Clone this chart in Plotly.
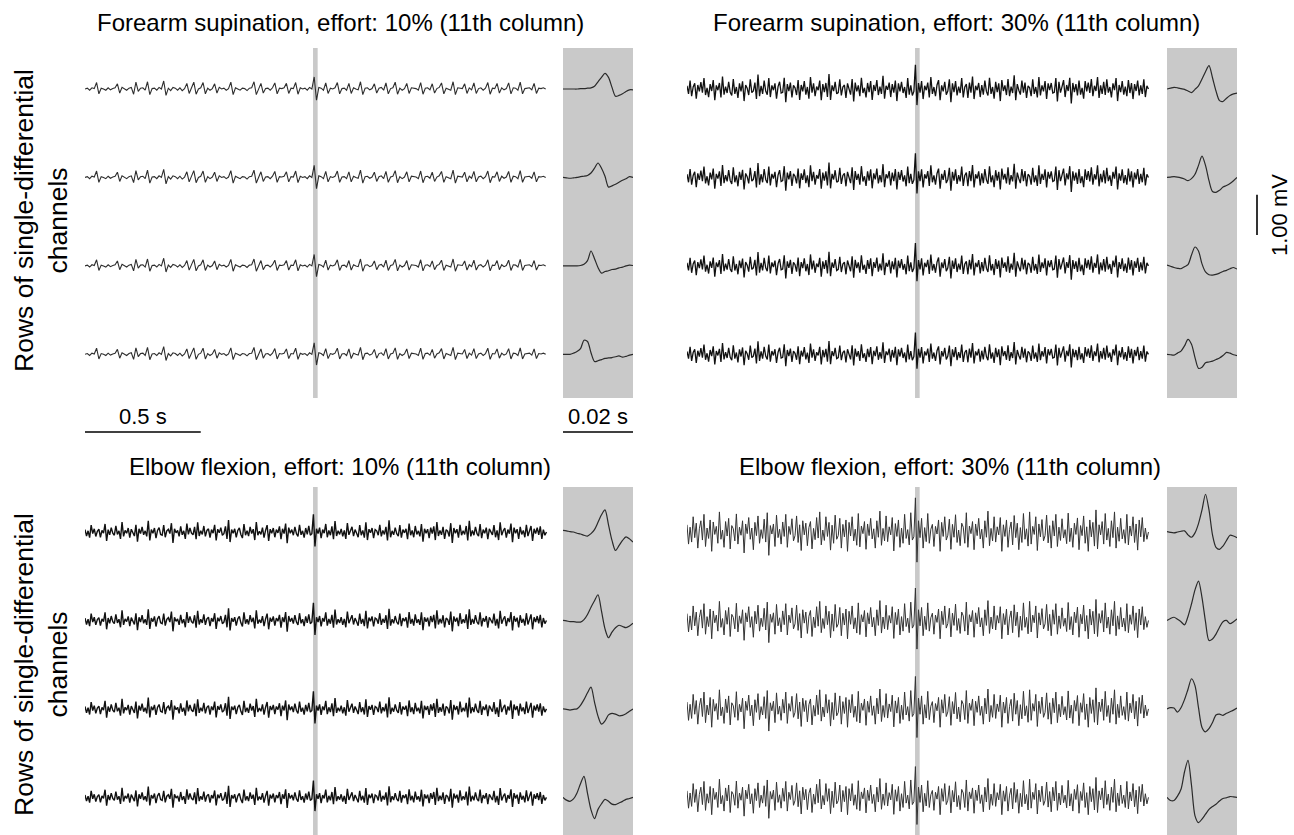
import numpy as np
import plotly.graph_objects as go

W, H = 1294, 835

titles = [
    "Forearm supination, effort: 10% (11th column)",
    "Forearm supination, effort: 30% (11th column)",
    "Elbow flexion, effort: 10% (11th column)",
    "Elbow flexion, effort: 30% (11th column)",
]
ylabel = "Rows of single-differential<br>channels"

# raw signal samples (units of 0.01 mV), 2 s each
fs_tl = 100.0
sig_tl = [
    0, 2, -3, 3, 1, 16, -12, 2, 0, -3,
    3, -2, 1, 3, 13, -10, 4, 0, -3, 2,
    4, -13, 17, -6, 2, 3, -3, 18, -14, 1,
    2, -3, 4, 0, 20, -16, 2, -4, 4, 2,
    -3, 3, -4, 1, 14, -11, 2, 17, -13, 0,
    3, 16, -12, 2, -3, 1, 13, -10, 4, 0,
    2, -3, 1, 17, -14, 3, 0, -3, 2, 1,
    -4, 2, 3, 18, -14, 2, 14, -10, 1, 2,
    -3, 3, 15, -12, 2, 1, 3, 14, -11, 2,
    1, 16, -13, 3, 0, 2, -3, 4, 0, 30,
    -28, 4, 2, -3, 15, -11, 2, 0, 3, 16,
    -12, 1, 2, -3, 14, -11, 3, 0, -2, 18,
    -14, 2, 3, -2, 1, 13, -10, 2, 4, -3,
    15, -12, 1, 3, 17, -13, 2, -3, 1, 14,
    -11, 3, 2, 1, -3, 16, -13, 2, 3, -2,
    13, -10, 1, 4, 15, -12, 2, 0, -3, 18,
    -14, 3, 2, 1, 13, -11, 3, -2, 15, -11,
    1, 3, -3, 2, 16, -13, 2, 1, 14, -10,
    3, -2, 1, 15, -12, 3, 2, -3, 17, -12,
    1, 2, 3, -2, 14, -11, 2, 1, 3, 0,
]
fs_tr = 150.0
sig_tr = [
    8, -12, 21, -18, 5, 14, -24, 10, -6, 17, -9, 27, -15, 3, -20,
    12, -5, 22, -28, 9, -3, 15, -21, 31, -14, 6, -10, 18, -8, -16,
    25, -12, 5, -22, 14, -6, 19, -30, 10, 2, -15, 24, -9, -5, 16,
    -25, 36, -18, 8, -12, 21, -5, -14, 27, -20, 9, -3, 14, -24, 6,
    18, -10, -8, 28, -33, 12, -5, 16, -21, 9, 3, -15, 22, -27, 10,
    -6, 20, -14, 5, -24, 30, -9, 14, -18, 6, -3, 21, -28, 12, -8,
    15, -20, 37, -27, 9, -5, 18, -12, -9, 24, -16, 5, 10, -22, 14,
    -3, -14, 25, -31, 16, -6, 9, -18, 28, -10, 3, -21, 15, -8, 20,
    -27, 10, -5, 22, -15, 6, -12, 33, -24, 8, -2, 16, -20, 12, -9,
    21, -30, 14, -6, 18, -10, 5, -22, 27, -14, 9, -16, -6, 60, -40,
    15, -9, 20, -25, 8, -3, 16, -21, 30, -12, 5, -18, 10, 22, -28,
    9, -6, 18, -14, -5, 24, -33, 14, -8, 20, -16, 6, -10, 27, -21,
    5, 12, -22, 16, -9, 31, -25, 8, -3, 15, -20, 10, -14, 21, -6,
    -16, 28, -12, 5, -24, 18, -8, 14, -30, 22, -5, 9, -15, 25, -18,
    6, -10, 34, -28, 12, -3, -14, 21, -9, 16, -22, 8, 3, -18, 24,
    -12, 5, -21, 30, -16, 9, -6, 20, -25, 14, -3, 15, -10, -8, 27,
    -31, 18, -9, 6, 22, -20, 10, -5, 28, -36, 15, -8, 12, -16, 21,
    -14, 3, -24, 20, -6, 16, -10, 25, -18, 8, -5, 30, -22, 9, -12,
    18, -15, 24, -9, 5, -21, 14, -3, 27, -30, 10, -8, 20, -14, 6,
    -18, 22, -10, 15, -25, 12, -5, 21, -16, 9, -12, 24, -20, 8, 0,
]
fs_bl = 150.0
sig_bl = [
    6, -10, 3, -14, 17, -4, 8, -11, 2, 7, -13, 4, -3, 20, -22,
    6, -7, 11, -3, -8, 15, -6, 3, -17, 25, -11, 4, -3, 10, -14,
    7, -2, -10, 18, -24, 8, -4, 13, -7, 3, -11, 28, -21, 6, -3,
    10, -15, 4, 11, -6, -8, 17, -13, 3, 7, -4, 22, -27, 8, -2,
    4, -11, 14, -7, 3, -17, 21, -6, 10, -3, -7, 13, -18, 24, -10,
    3, -6, 15, -11, 4, 8, -14, 6, -3, 18, -21, 7, -2, 11, -8,
    -4, 14, -17, 30, -25, 6, -3, 8, -13, 4, 10, -6, -15, 20, -8,
    3, -10, 13, -4, 7, -20, 25, -8, 2, -6, 11, -14, 4, 17, -22,
    7, -3, 10, -13, 6, -2, 14, -18, 8, -4, 21, -28, 11, -3, 6,
    -8, 13, -4, -11, 18, -7, 3, -14, 10, -6, 15, -8, -4, 44, -36,
    8, -4, 11, -15, 6, -3, 20, -13, 4, -8, 14, -18, 27, -10, 3,
    -6, 8, -11, 4, -17, 22, -7, 2, 13, -10, 6, -3, -13, 17, -8,
    4, -14, 24, -20, 7, -2, 10, -15, 6, 3, -8, 18, -11, 4, -6,
    13, -21, 29, -13, 3, -7, 11, -4, -10, 17, -14, 6, -2, 8, -18,
    21, -8, 4, -13, 15, -6, 3, -11, 20, -24, 8, -3, 7, -15, 11,
    -4, 14, -20, 25, -10, 4, -7, 13, -17, 6, 2, -11, 22, -27, 10,
    -3, 7, -14, 18, -8, 3, -6, 15, -21, 28, -11, 4, -8, 13, -4,
    -10, 20, -15, 6, -3, 11, -18, 8, 2, -7, 17, -13, 4, -20, 24,
    -8, 3, 10, -14, 6, -4, 21, -25, 11, -3, 7, -17, 13, -6, 4,
    -13, 18, -10, 3, 15, -22, 8, -4, 11, -7, 14, -17, 6, -8, 0,
]
fs_br = 150.0
sig_br = [
    18, -30, 12, -25, 38, -14, 22, -40, 8, 28, -20, 44, -36, 10, -16,
    30, -48, 25, -6, 14, -28, 50, -18, 5, -38, 26, -10, 34, -42, 16,
    8, -22, 45, -30, 12, -8, 28, -52, 20, -4, 36, -18, 10, -44, 24,
    -9, 40, -28, 6, -16, 32, -25, 48, -58, 16, -5, 20, -36, 42, -14,
    7, -30, 25, -11, 44, -38, 14, -6, 33, -22, -9, 40, -26, 18, -46,
    28, -7, 22, -34, 11, 26, -42, 9, -19, 36, -15, 50, -32, 5, -21,
    38, -11, 24, -45, 17, -28, 42, -18, -9, 34, -40, 19, -12, 30, -48,
    24, -10, 38, -22, 7, -33, 46, -37, 15, -4, 26, -43, 20, -9, 34,
    -17, 8, -40, 28, -13, 52, -33, 9, -22, 40, -24, 13, -7, 36, -47,
    21, -11, 30, -38, 10, -28, 44, -16, 6, -32, 48, -20, -12, 85, -75,
    28, -14, 34, -40, 11, -24, 46, -28, 7, 19, -36, 14, -5, 30, -48,
    24, -11, 38, -20, -8, 32, -43, 19, -13, 43, -26, 5, -34, 22, 12,
    -28, 48, -38, 15, -4, 26, -44, 20, -9, 34, -17, 7, -40, 28, -13,
    52, -34, 9, -22, 38, -25, 13, -7, 36, -48, 18, -11, 30, -38, 6,
    25, -32, 41, -14, 22, -44, 11, -26, 46, -18, 8, -35, 50, -30, 14,
    -6, 38, -46, 20, -12, 31, -22, -9, 42, -27, 16, -40, 28, -10, 44,
    -36, 12, -21, 33, -15, 6, -29, 47, -24, 10, -38, 22, -6, 35, -44,
    16, -9, 40, -28, 13, -48, 30, -12, 24, -35, 55, -42, 18, -7, 26,
    -30, 46, -20, 9, -36, 28, -14, 50, -40, 12, -23, 34, -17, 6, -28,
    44, -32, 15, -10, 38, -26, 20, -45, 30, -12, 36, -24, 10, -18, 0,
]
row_gain_tl = [1.0, 1.0, 0.95, 0.95]
row_gain_tr = [1.0, 1.0, 0.95, 0.9]
row_gain_bl = [1.0, 1.0, 1.0, 0.95]
row_gain_br = [1.0, 0.95, 0.95, 0.9]

# MUAP templates (mV), 21 samples over 0.02 s
tpl_tl = [
    [0, 0, 0, 0, 0, 0.01, 0.01, 0.02, 0.03, 0.07, 0.18, 0.29, 0.39, 0.29, 0.04, -0.18, -0.16, -0.12, -0.06, -0.02, -0.02],
    [0, -0.01, -0.02, -0.01, 0, 0.02, 0.03, 0.05, 0.11, 0.23, 0.36, 0.23, 0.03, -0.24, -0.21, -0.17, -0.12, -0.07, -0.03, 0.02, 0],
    [0, 0, 0, 0, 0, 0.01, 0.04, 0.13, 0.37, 0.18, -0.04, -0.18, -0.14, -0.12, -0.09, -0.08, -0.05, -0.03, 0, 0.02, 0.01],
    [0, 0, 0, 0.03, 0.07, 0.14, 0.35, 0.32, 0.04, -0.18, -0.16, -0.13, -0.10, -0.09, -0.08, -0.06, -0.04, -0.07, -0.05, -0.02, 0],
]
tpl_tr = [
    [0, 0.02, 0.04, 0.03, 0.01, -0.01, -0.05, -0.09, -0.01, 0.08, 0.25, 0.43, 0.58, 0.28, -0.05, -0.29, -0.31, -0.23, -0.16, -0.12, -0.10],
    [0, 0.01, 0.02, 0.01, -0.01, -0.04, -0.08, -0.03, 0.08, 0.30, 0.53, 0.30, -0.08, -0.35, -0.37, -0.32, -0.24, -0.20, -0.15, -0.08, 0],
    [0.02, -0.01, -0.04, -0.06, -0.07, -0.02, 0.03, 0.27, 0.47, 0.37, 0.05, -0.15, -0.22, -0.23, -0.21, -0.18, -0.14, -0.11, -0.07, -0.04, -0.08],
    [0, -0.01, -0.02, 0.03, 0.08, 0.21, 0.37, 0.25, -0.08, -0.35, -0.32, -0.21, -0.19, -0.17, -0.13, -0.09, -0.03, 0.05, 0.03, -0.01, -0.03],
]
tpl_bl = [
    [0.04, 0.03, 0.01, 0, -0.03, -0.05, -0.08, -0.10, -0.04, 0.06, 0.24, 0.43, 0.55, 0.18, -0.21, -0.46, -0.34, -0.21, -0.12, -0.17, -0.25],
    [0, -0.01, -0.03, -0.03, -0.04, -0.04, 0.02, 0.15, 0.33, 0.49, 0.64, 0.23, -0.21, -0.43, -0.29, -0.18, -0.12, -0.15, -0.18, -0.14, -0.07],
    [0, -0.01, -0.03, -0.01, 0, 0.09, 0.23, 0.40, 0.54, 0.17, -0.18, -0.38, -0.30, -0.15, -0.11, -0.13, -0.17, -0.16, -0.12, -0.06, 0],
    [0, -0.07, -0.10, -0.04, 0.11, 0.34, 0.52, 0.10, -0.31, -0.53, -0.30, -0.16, -0.05, -0.10, -0.17, -0.18, -0.14, -0.10, -0.05, -0.03, 0],
]
tpl_br = [
    [0.01, -0.01, -0.02, 0, 0.02, 0.03, -0.07, -0.13, -0.02, 0.21, 0.55, 0.94, 0.55, -0.07, -0.38, -0.43, -0.35, -0.21, -0.08, -0.10, -0.14],
    [0, 0.05, 0.08, 0.03, -0.03, -0.11, 0.10, 0.41, 0.76, 0.98, 0.57, -0.03, -0.50, -0.46, -0.34, -0.17, -0.03, 0, -0.08, -0.03, 0.04],
    [0, 0.03, 0.02, -0.08, 0.03, 0.23, 0.49, 0.75, 0.58, 0.03, -0.46, -0.57, -0.49, -0.34, -0.15, -0.13, -0.16, -0.11, -0.07, -0.03, 0.02],
    [0, -0.08, -0.08, 0.03, 0.20, 0.63, 0.92, 0.30, -0.46, -0.63, -0.54, -0.42, -0.30, -0.23, -0.17, -0.09, -0.03, -0.01, 0.02, 0.01, 0],
]

row_offsets = [0.0, -2.2, -4.4, -6.6]  # mV
window = [0.985, 1.005]  # s, highlighted 0.02 s window
tpl_fs = 1000.0

FONT = "Liberation Sans, Arial, sans-serif"
GRAY = "#c9c9c9"


def px(x):
    return x / W


def py(y):
    return 1 - y / H


panels = [
    dict(title=titles[0], sig=sig_tl, fs=fs_tl, gain=row_gain_tl, tpl=tpl_tl, sx=(85, 548), tx=(563, 633),
         yd=(48, 398), yr=(-7.686, 1.02), color="#2e2e2e", lw=1.1, tcx=340, tcy=22),
    dict(title=titles[1], sig=sig_tr, fs=fs_tr, gain=row_gain_tr, tpl=tpl_tr, sx=(687, 1150), tx=(1167, 1237),
         yd=(48, 398), yr=(-7.686, 1.02), color="#111111", lw=1.3, tcx=956, tcy=22),
    dict(title=titles[2], sig=sig_bl, fs=fs_bl, gain=row_gain_bl, tpl=tpl_bl, sx=(85, 548), tx=(563, 633),
         yd=(487, 835), yr=(-7.537, 1.12), color="#111111", lw=1.4, tcx=340, tcy=466),
    dict(title=titles[3], sig=sig_br, fs=fs_br, gain=row_gain_br, tpl=tpl_br, sx=(687, 1150), tx=(1167, 1237),
         yd=(487, 835), yr=(-7.537, 1.12), color="#333333", lw=1.0, tcx=950, tcy=466),
]

fig = go.Figure()
layout = dict(
    width=W, height=H, margin=dict(l=0, r=0, t=0, b=0),
    paper_bgcolor="white", plot_bgcolor="rgba(0,0,0,0)", showlegend=False,
    font=dict(family=FONT, color="black"),
)
shapes = []
annotations = []

for k, p in enumerate(panels):
    xs_id = 2 * k + 1
    xt_id = 2 * k + 2
    y_id = k + 1
    xs_ref = "x" if xs_id == 1 else f"x{xs_id}"
    xt_ref = f"x{xt_id}"
    y_ref = "y" if y_id == 1 else f"y{y_id}"
    xs_name = "xaxis" if xs_id == 1 else f"xaxis{xs_id}"
    xt_name = f"xaxis{xt_id}"
    y_name = "yaxis" if y_id == 1 else f"yaxis{y_id}"

    ax_common = dict(visible=False, showgrid=False, zeroline=False, fixedrange=True)
    layout[xs_name] = dict(domain=[px(p["sx"][0]), px(p["sx"][1])], range=[0, 2.0], anchor=y_ref, **ax_common)
    layout[xt_name] = dict(domain=[px(p["tx"][0]), px(p["tx"][1])], range=[0, 0.02], anchor=y_ref, **ax_common)
    layout[y_name] = dict(domain=[py(p["yd"][1]), py(p["yd"][0])], range=list(p["yr"]), anchor=xs_ref, **ax_common)

    sig = np.array(p["sig"], dtype=float) * 0.01
    t = np.arange(len(sig)) / p["fs"]
    for r in range(4):
        fig.add_trace(go.Scatter(
            x=t, y=sig * p["gain"][r] + row_offsets[r], mode="lines",
            line=dict(color=p["color"], width=p["lw"]), xaxis=xs_ref, yaxis=y_ref,
            hoverinfo="skip"))
        tpl = np.array(p["tpl"][r], dtype=float)
        tt = np.arange(len(tpl)) / tpl_fs
        fig.add_trace(go.Scatter(
            x=tt, y=tpl + row_offsets[r], mode="lines",
            line=dict(color="#2a2a2a", width=1.2, shape="spline", smoothing=0.8),
            xaxis=xt_ref, yaxis=y_ref, hoverinfo="skip"))

    # gray template box and highlighted window
    shapes.append(dict(type="rect", xref=xt_ref, yref=f"{y_ref} domain", x0=0, x1=0.02, y0=0, y1=1,
                       fillcolor=GRAY, line=dict(width=0), layer="below"))
    shapes.append(dict(type="rect", xref=xs_ref, yref=f"{y_ref} domain", x0=window[0], x1=window[1], y0=0, y1=1,
                       fillcolor=GRAY, line=dict(width=0), layer="below"))

    annotations.append(dict(text=p["title"], x=px(p["tcx"]), y=py(p["tcy"]), xref="paper", yref="paper",
                            showarrow=False, xanchor="center", yanchor="middle",
                            font=dict(size=24, family=FONT, color="black")))

# y labels
for cy in (221, 665):
    annotations.append(dict(text=ylabel, x=px(41), y=py(cy), xref="paper", yref="paper", showarrow=False,
                            textangle=-90, xanchor="center", yanchor="middle",
                            font=dict(size=26.5, family=FONT, color="black")))

# time scale bars
shapes.append(dict(type="line", xref="x", yref="paper", x0=0, x1=0.5, y0=py(432), y1=py(432),
                   line=dict(color="black", width=1.6)))
annotations.append(dict(text="0.5 s", x=0.25, y=py(416), xref="x", yref="paper", showarrow=False,
                        xanchor="center", yanchor="middle", font=dict(size=22, family=FONT, color="black")))
shapes.append(dict(type="line", xref="x2", yref="paper", x0=0, x1=0.02, y0=py(432), y1=py(432),
                   line=dict(color="black", width=1.6)))
annotations.append(dict(text="0.02 s", x=0.01, y=py(416), xref="x2", yref="paper", showarrow=False,
                        xanchor="center", yanchor="middle", font=dict(size=22, family=FONT, color="black")))

# amplitude scale bar 1.00 mV (in top-right panel axis)
shapes.append(dict(type="line", xref="paper", yref="y2", x0=px(1257), x1=px(1257), y0=-3.63, y1=-2.63,
                   line=dict(color="black", width=1.6)))
annotations.append(dict(text="1.00 mV", x=px(1280), y=py(215), xref="paper", yref="paper", showarrow=False,
                        textangle=-90, xanchor="center", yanchor="middle",
                        font=dict(size=22, family=FONT, color="black")))

layout["shapes"] = shapes
layout["annotations"] = annotations
fig.update_layout(**layout)
fig.write_html("out.html", config={"displayModeBar": False, "staticPlot": True},
               post_script="document.body.style.margin='0px';")
